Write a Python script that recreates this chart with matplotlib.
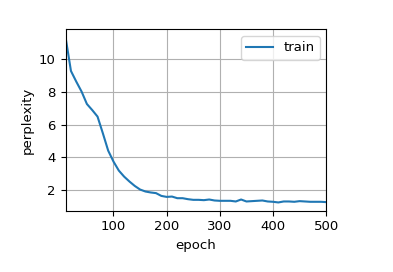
import matplotlib
matplotlib.use("Agg")
import matplotlib.pyplot as plt

epochs = list(range(10, 501, 10))
perplexity = [11.33, 9.29, 8.64, 8.03, 7.27, 6.90, 6.50, 5.48, 4.42, 3.75,
              3.20, 2.83, 2.53, 2.26, 2.04, 1.92, 1.86, 1.82, 1.65, 1.59,
              1.61, 1.51, 1.51, 1.45, 1.41, 1.41, 1.39, 1.43, 1.37, 1.35,
              1.35, 1.35, 1.31, 1.43, 1.31, 1.33, 1.35, 1.37, 1.31, 1.29,
              1.25, 1.31, 1.31, 1.29, 1.33, 1.31, 1.29, 1.29, 1.29, 1.27]

plt.rcParams['font.size'] = 9.5
fig = plt.figure(figsize=(3.93, 2.72), dpi=100)
ax = fig.add_axes([0.167, 0.2254, 0.663, 0.6666])
ax.plot(epochs, perplexity, color='#1f77b4', linewidth=1.5, label='train')
ax.set_xlim(10, 500)
ax.set_xticks([100, 200, 300, 400, 500])
ax.set_yticks([2, 4, 6, 8, 10])
ax.set_xlabel('epoch')
ax.set_ylabel('perplexity')
ax.grid(True)
ax.legend(loc='upper right')
fig.savefig('out.png', dpi=100)
